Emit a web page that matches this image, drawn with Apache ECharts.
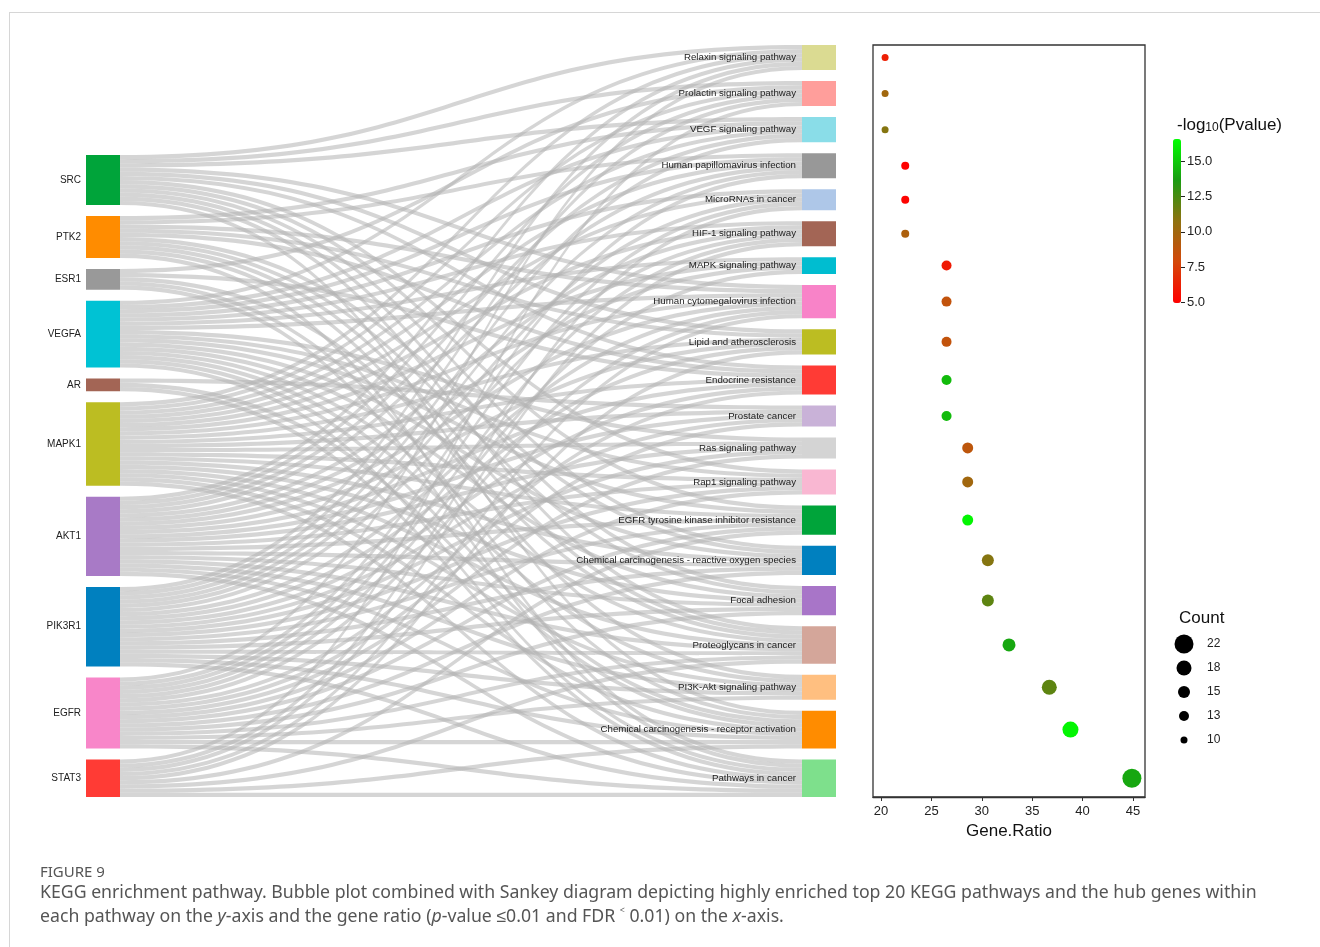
<!DOCTYPE html>
<html>
<head>
<meta charset="utf-8">
<title>KEGG enrichment pathway</title>
<script src="https://cdn.jsdelivr.net/npm/echarts@6/dist/echarts.min.js"></script>
<style>
  html, body { margin: 0; padding: 0; background: #fff; overflow: hidden; }
  #frame { position: absolute; left: 9px; top: 12px; width: 1400px; height: 1000px;
           border-top: 1px solid #d6d6d6; border-left: 1px solid #d6d6d6; }
  #chart { position: absolute; left: 0; top: 0; width: 1320px; height: 947px; }
</style>
</head>
<body>
<div id="frame"></div>
<div id="chart"></div>
<script>
// hub genes (left column of the sankey)
const genes = ['SRC', 'PTK2', 'ESR1', 'VEGFA', 'AR', 'MAPK1', 'AKT1', 'PIK3R1', 'EGFR', 'STAT3'];

// KEGG pathways, top to bottom
const pathways = [
    'Relaxin signaling pathway',
    'Prolactin signaling pathway',
    'VEGF signaling pathway',
    'Human papillomavirus infection',
    'MicroRNAs in cancer',
    'HIF-1 signaling pathway',
    'MAPK signaling pathway',
    'Human cytomegalovirus infection',
    'Lipid and atherosclerosis',
    'Endocrine resistance',
    'Prostate cancer',
    'Ras signaling pathway',
    'Rap1 signaling pathway',
    'EGFR tyrosine kinase inhibitor resistance',
    'Chemical carcinogenesis - reactive oxygen species',
    'Focal adhesion',
    'Proteoglycans in cancer',
    'PI3K-Akt signaling pathway',
    'Chemical carcinogenesis - receptor activation',
    'Pathways in cancer'
];

const geneRatio = [20.4, 20.4, 20.4, 22.4, 22.4, 22.4, 26.5, 26.5, 26.5, 26.5,
                   26.5, 28.6, 28.6, 28.6, 30.6, 30.6, 32.7, 36.7, 38.8, 44.9];
const counts = [10, 10, 10, 11, 11, 11, 13, 13, 13, 13, 13, 14, 14, 14, 15, 15, 16, 18, 19, 22];
const logP = [6.2, 10.0, 11.0, 5.0, 5.1, 9.5, 6.0, 8.6, 8.6, 14.6,
              14.6, 8.8, 10.0, 16.3, 11.0, 12.0, 14.0, 12.0, 16.3, 14.0];

// hub genes found in each pathway (same order as pathways)
const pathwayGenes = [
    ['MAPK1', 'AKT1', 'PIK3R1', 'EGFR', 'VEGFA', 'SRC'],
    ['MAPK1', 'AKT1', 'PIK3R1', 'SRC', 'STAT3', 'ESR1'],
    ['MAPK1', 'AKT1', 'PIK3R1', 'VEGFA', 'SRC', 'PTK2'],
    ['MAPK1', 'AKT1', 'PIK3R1', 'EGFR', 'VEGFA', 'PTK2'],
    ['MAPK1', 'PIK3R1', 'EGFR', 'VEGFA', 'STAT3'],
    ['MAPK1', 'AKT1', 'PIK3R1', 'EGFR', 'VEGFA', 'STAT3'],
    ['MAPK1', 'AKT1', 'EGFR', 'VEGFA'],
    ['MAPK1', 'AKT1', 'PIK3R1', 'EGFR', 'VEGFA', 'SRC', 'PTK2', 'STAT3'],
    ['MAPK1', 'AKT1', 'PIK3R1', 'SRC', 'STAT3', 'PTK2'],
    ['MAPK1', 'AKT1', 'PIK3R1', 'EGFR', 'SRC', 'ESR1', 'PTK2'],
    ['MAPK1', 'AKT1', 'PIK3R1', 'EGFR', 'AR'],
    ['MAPK1', 'AKT1', 'PIK3R1', 'EGFR', 'VEGFA'],
    ['MAPK1', 'AKT1', 'PIK3R1', 'EGFR', 'VEGFA', 'SRC'],
    ['MAPK1', 'AKT1', 'PIK3R1', 'EGFR', 'VEGFA', 'SRC', 'STAT3'],
    ['MAPK1', 'AKT1', 'PIK3R1', 'EGFR', 'VEGFA', 'SRC', 'PTK2'],
    ['MAPK1', 'AKT1', 'PIK3R1', 'EGFR', 'VEGFA', 'SRC', 'PTK2'],
    ['MAPK1', 'AKT1', 'PIK3R1', 'EGFR', 'VEGFA', 'SRC', 'PTK2', 'STAT3', 'ESR1'],
    ['MAPK1', 'AKT1', 'PIK3R1', 'EGFR', 'VEGFA', 'PTK2'],
    ['MAPK1', 'AKT1', 'PIK3R1', 'EGFR', 'VEGFA', 'SRC', 'ESR1', 'AR', 'STAT3'],
    ['MAPK1', 'AKT1', 'PIK3R1', 'EGFR', 'VEGFA', 'STAT3', 'AR', 'ESR1', 'PTK2']
];

// size legend entries
const countLevels = [22, 18, 15, 13, 10];
const colorTicks = [5, 7.5, 10, 12.5, 15];
const ratioTicks = [20, 25, 30, 35, 40, 45];

// colours
const geneColors = ['#00a43a', '#ff8c00', '#999999', '#00c2d4', '#a36555',
                    '#bcbd22', '#a87ac6', '#0080bf', '#f886c9', '#ff3b35'];
const pathwayColors = ['#dbdb92', '#ff9e9b', '#8adde8', '#989898', '#aec7e8',
                       '#a36555', '#00bdd0', '#f883c8', '#bcbd22', '#ff3b35',
                       '#c9b2d8', '#d4d4d4', '#f9b7d2', '#00a43a', '#0080bf',
                       '#a875c8', '#d4a69a', '#ffbf80', '#ff8c00', '#7ee08c'];

// layout: sankey and bubble plot share the same vertical band
const TOP = 45, BOTTOM = 150, H = 947 - TOP - BOTTOM, GAP = 11;
const totalLinks = pathwayGenes.reduce((s, g) => s + g.length, 0);
const ky = (H - (pathways.length - 1) * GAP) / totalLinks;
const gapUnits = GAP / ky;

// left column sits at the bottom of the band
const geneSize = genes.map(g => pathwayGenes.filter(list => list.includes(g)).length);
const leftSpan = totalLinks * ky + (genes.length - 1) * GAP;
const shift = H - leftSpan;
let acc = 0;
const geneLocalY = geneSize.map((n, i) => {
    const y = (acc * ky + i * GAP + shift) / H;
    acc += n;
    return y;
});

// y of each pathway centre, in link units
acc = 0;
const pathwayY = pathwayGenes.map((list, i) => {
    const y = acc + list.length / 2 + i * gapUnits;
    acc += list.length;
    return y;
});
const yMax = totalLinks + (pathways.length - 1) * gapUnits;

const nodes = genes.map((g, i) => ({
    name: g,
    localY: geneLocalY[i],
    itemStyle: { color: geneColors[i] },
    label: { fontSize: 10, distance: 5 }
})).concat(pathways.map((p, i) => ({
    name: p,
    itemStyle: { color: pathwayColors[i] },
    label: { fontSize: 9.7, distance: 6 }
})));

const links = [];
pathwayGenes.forEach((list, i) => {
    list.forEach(g => links.push({ source: g, target: pathways[i], value: 1 }));
});

const bubbles = pathways.map((p, i) => [geneRatio[i], pathwayY[i], counts[i], logP[i], p]);
const sizeOf = c => 7 + (c - 10) * 1.0;

const FONT = '"Liberation Sans", Arial, sans-serif';
const CAPTION_FONT = '"Noto Sans", sans-serif';
const chart = echarts.init(document.getElementById('chart'));

chart.setOption({
    animation: false,
    textStyle: { fontFamily: FONT },
    title: [
        {
            text: '-log{s|10}(Pvalue)',
            left: 1172, top: 112,
            textStyle: {
                fontSize: 17, fontWeight: 'normal', color: '#111', fontFamily: FONT,
                rich: {
                    s: { fontSize: 12, color: '#111', verticalAlign: 'bottom', lineHeight: 12, fontFamily: FONT }
                }
            }
        },
        {
            text: 'Count',
            left: 1174, top: 605,
            textStyle: { fontSize: 17, fontWeight: 'normal', color: '#111', fontFamily: FONT }
        },
        {
            text: 'FIGURE 9',
            left: 35, top: 860,
            textStyle: { fontSize: 15, fontWeight: 'normal', color: '#555', fontFamily: CAPTION_FONT }
        },
        {
            text: 'KEGG enrichment pathway. Bubble plot combined with Sankey diagram depicting highly enriched top 20 KEGG pathways and the hub genes within\n' +
                  'each pathway on the {i|y}-axis and the gene ratio ({i|p}-value \u22640.01 and FDR \u02c2 0.01) on the {i|x}-axis.',
            left: 35, top: 876,
            textStyle: {
                fontSize: 17.7, fontWeight: 'normal', color: '#555', lineHeight: 24,
                fontFamily: CAPTION_FONT,
                rich: { i: { fontStyle: 'italic', fontSize: 17.7, color: '#555', lineHeight: 24, fontFamily: CAPTION_FONT } }
            }
        }
    ],
    grid: [
        { left: 873, right: 175, top: TOP, bottom: BOTTOM, show: true, borderColor: '#333', borderWidth: 1.3, backgroundColor: 'transparent' },
        { left: 1181, width: 1, top: 139, height: 164 },
        { left: 1174, width: 20, top: 632, height: 120 }
    ],
    xAxis: [
        {
            gridIndex: 0, type: 'value', min: 19.2, max: 46.2,
            axisLine: { show: true, onZero: false, lineStyle: { color: '#333', width: 1.3 } },
            axisTick: { show: true, length: 4, customValues: ratioTicks, lineStyle: { color: '#333' } },
            axisLabel: { customValues: ratioTicks, fontSize: 13, color: '#222', margin: 8 },
            splitLine: { show: false },
            name: 'Gene.Ratio', nameLocation: 'middle', nameGap: 26,
            nameTextStyle: { fontSize: 17, color: '#111' }
        },
        { gridIndex: 1, type: 'value', show: false },
        { gridIndex: 2, type: 'value', min: -1, max: 1, show: false }
    ],
    yAxis: [
        { gridIndex: 0, type: 'value', inverse: true, min: 0, max: yMax, show: false },
        {
            gridIndex: 1, type: 'value', min: 4.95, max: 16.6, position: 'left',
            axisLine: { show: false },
            axisTick: { show: true, inside: true, length: 4, customValues: colorTicks, lineStyle: { color: '#222' } },
            axisLabel: { inside: true, customValues: colorTicks, margin: 6, fontSize: 13, color: '#222',
                         formatter: v => v.toFixed(1) },
            splitLine: { show: false }
        },
        {
            gridIndex: 2, type: 'category', inverse: true, position: 'right',
            data: countLevels.map(String),
            axisLine: { show: false }, axisTick: { show: false },
            axisLabel: { margin: 13, fontSize: 12, color: '#222' }
        }
    ],
    visualMap: {
        type: 'continuous',
        seriesIndex: 1,
        dimension: 3,
        min: 4.95, max: 16.6,
        calculable: false,
        left: 1158, top: 124,
        itemWidth: 8, itemHeight: 164,
        text: null,
        inRange: { color: ['#ff0000', '#d4480a', '#8e7210', '#1a9c12', '#00ff00'] }
    },
    series: [
        {
            type: 'sankey',
            left: 86, right: 484, top: TOP, bottom: BOTTOM,
            nodeWidth: 34, nodeGap: GAP,
            layoutIterations: 0,
            draggable: false,
            emphasis: { disabled: true },
            data: nodes,
            links: links,
            label: { position: 'left', color: '#222', fontFamily: FONT },
            itemStyle: { borderWidth: 0 },
            lineStyle: { color: '#b3b3b3', opacity: 0.55, curveness: 0.5 }
        },
        {
            type: 'scatter',
            xAxisIndex: 0, yAxisIndex: 0,
            data: bubbles,
            symbolSize: v => sizeOf(v[2]),
            itemStyle: { opacity: 1 }
        },
        {
            type: 'scatter',
            xAxisIndex: 2, yAxisIndex: 2,
            data: countLevels.map((c, i) => [0, i, c]),
            symbolSize: v => sizeOf(v[2]),
            itemStyle: { color: '#000', opacity: 1 },
            silent: true
        }
    ]
});
</script>
</body>
</html>
